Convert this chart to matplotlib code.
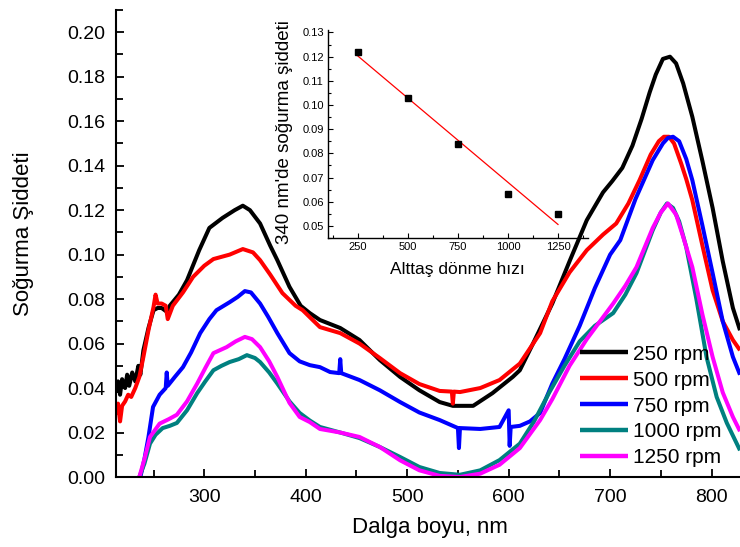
import numpy as np
import matplotlib
matplotlib.use("Agg")
import matplotlib.pyplot as plt
from matplotlib import font_manager
from matplotlib.ticker import MultipleLocator, FormatStrFormatter

# --- data ------------------------------------------------------------------
wl_250 = [213, 215, 217, 219, 222, 224, 226, 229, 232, 235, 237, 240, 245, 250, 254, 258, 264, 266,
          275, 283, 295, 305, 318, 330, 338, 345, 355, 365, 372, 384, 395, 404, 414, 434, 453, 473,
          493, 512, 532, 545, 565, 584, 604, 611, 624, 643, 660, 677, 693, 702, 712, 722, 731, 739,
          745, 752, 759, 765, 772, 781, 791, 801, 811, 821, 828]
abs_250 = [0.038, 0.043, 0.037, 0.044, 0.040, 0.046, 0.041, 0.047, 0.043, 0.050, 0.046, 0.057, 0.067,
           0.075, 0.076, 0.076, 0.074, 0.077, 0.082, 0.0885, 0.102, 0.112, 0.1165, 0.120, 0.122, 0.120,
           0.114, 0.104, 0.0975, 0.0855, 0.077, 0.0737, 0.0706, 0.067, 0.0616, 0.0526, 0.045, 0.039,
           0.0337, 0.032, 0.032, 0.0377, 0.045, 0.048, 0.060, 0.078, 0.097, 0.1155, 0.128, 0.133,
           0.139, 0.149, 0.161, 0.173, 0.181, 0.188, 0.189, 0.186, 0.177, 0.162, 0.142, 0.121, 0.097,
           0.076, 0.066]

wl_500 = [213, 215, 217, 219, 222, 225, 228, 232, 236, 240, 245, 250, 252, 254, 258, 262, 264, 269,
          279, 289, 300, 309, 325, 338, 348, 355, 365, 377, 390, 397, 414, 434, 453, 473, 493, 512,
          532, 544, 545, 546, 552, 572, 591, 611, 631, 643, 660, 677, 693, 706, 718, 729, 740, 748,
          753, 758, 763, 770, 775, 781, 791, 801, 811, 821, 828]
abs_500 = [0.028, 0.033, 0.025, 0.032, 0.034, 0.037, 0.036, 0.040, 0.045, 0.054, 0.066, 0.0765, 0.082,
           0.078, 0.078, 0.077, 0.071, 0.077, 0.083, 0.090, 0.095, 0.098, 0.100, 0.1025, 0.101, 0.0975,
           0.091, 0.0827, 0.077, 0.075, 0.0674, 0.0647, 0.060, 0.0535, 0.0467, 0.0418, 0.0387, 0.0384,
           0.033, 0.0384, 0.0382, 0.040, 0.0436, 0.051, 0.0647, 0.079, 0.092, 0.102, 0.109, 0.114,
           0.123, 0.1335, 0.145, 0.151, 0.153, 0.153, 0.150, 0.141, 0.134, 0.1245, 0.104, 0.084,
           0.070, 0.0616, 0.057]

wl_750 = [237, 241, 245, 249.5, 256, 262, 263, 264, 271, 279, 287, 296, 305, 312, 325, 333, 340, 346,
          355, 363, 372, 384, 394, 404, 414, 424, 433, 434, 435, 453, 473, 493, 512, 532, 550, 551,
          552, 572, 591, 600, 601, 602, 611, 621, 631, 643, 655, 670, 685, 700, 710, 725, 742, 752,
          757, 762, 768, 775, 781, 791, 801, 811, 821, 828]
abs_750 = [0.000, 0.008, 0.018, 0.0315, 0.037, 0.040, 0.047, 0.041, 0.045, 0.0494, 0.056, 0.0647, 0.071,
           0.075, 0.0786, 0.081, 0.0836, 0.083, 0.078, 0.072, 0.0647, 0.0557, 0.052, 0.0503, 0.0494,
           0.0472, 0.0467, 0.053, 0.0467, 0.0436, 0.039, 0.0337, 0.029, 0.0256, 0.022, 0.013, 0.022,
           0.0216, 0.0225, 0.030, 0.014, 0.0225, 0.023, 0.025, 0.0288, 0.042, 0.053, 0.068, 0.085,
           0.100, 0.1065, 0.125, 0.1425, 0.150, 0.1525, 0.153, 0.151, 0.143, 0.1335, 0.113, 0.0917,
           0.070, 0.054, 0.046]

wl_1000 = [236, 241, 246.5, 252, 259, 266, 273, 283, 293, 301, 309, 317, 325, 334, 342, 350, 355, 364,
           372, 384, 394, 404, 414, 434, 453, 473, 493, 512, 532, 552, 572, 591, 611, 625, 640, 655,
           670, 685, 703, 715, 726, 742, 750, 756, 762, 768, 775, 785, 795, 805, 815, 828]
abs_1000 = [0.000, 0.006, 0.015, 0.019, 0.022, 0.023, 0.0243, 0.030, 0.0377, 0.043, 0.048, 0.050,
            0.0517, 0.053, 0.0548, 0.0535, 0.0517, 0.047, 0.042, 0.034, 0.0288, 0.0254, 0.0225, 0.020,
            0.0175, 0.0135, 0.009, 0.0045, 0.0018, 0.001, 0.003, 0.0076, 0.015, 0.025, 0.038, 0.050,
            0.061, 0.068, 0.0737, 0.082, 0.0917, 0.111, 0.119, 0.123, 0.121, 0.115, 0.1034, 0.080,
            0.054, 0.036, 0.0243, 0.012]

wl_1250 = [236, 241, 246.5, 256, 265, 273, 283, 293, 301, 309, 322, 331, 340, 347, 355, 364, 372, 384,
           394, 404, 414, 434, 453, 473, 493, 512, 532, 552, 572, 591, 611, 631, 643, 660, 677, 690,
           703, 715, 726, 742, 750, 757, 765, 772, 781, 791, 801, 811, 821, 828]
abs_1250 = [0.000, 0.008, 0.018, 0.024, 0.026, 0.028, 0.034, 0.042, 0.049, 0.0557, 0.0584, 0.061,
            0.063, 0.062, 0.0584, 0.052, 0.045, 0.0333, 0.027, 0.0247, 0.0216, 0.020, 0.018, 0.0135,
            0.0075, 0.003, 0.0005, 0.000, 0.0015, 0.0055, 0.013, 0.0256, 0.035, 0.050, 0.062, 0.070,
            0.078, 0.086, 0.0944, 0.112, 0.119, 0.123, 0.118, 0.108, 0.0944, 0.073, 0.054, 0.038,
            0.027, 0.0206]

series_labels = ["250 rpm", "500 rpm", "750 rpm", "1000 rpm", "1250 rpm"]
series_colors = ["#000000", "#ff0000", "#0000ff", "#008080", "#ff00ff"]

# inset: absorbance at 340 nm vs spin speed
rpm = np.array([250, 500, 750, 1000, 1250])
abs_340 = np.array([0.122, 0.103, 0.084, 0.063, 0.055])

# --- fonts -------------------------------------------------------------------
names = {f.name for f in font_manager.fontManager.ttflist}
NARROW = "Liberation Sans Narrow" if "Liberation Sans Narrow" in names else "Liberation Sans"
plt.rcParams["font.family"] = ["Liberation Sans", "DejaVu Sans"]

fig = plt.figure(figsize=(7.4, 5.47), dpi=100)
ax = fig.add_axes([116 / 740, 70 / 547, 624 / 740, 467 / 547])

curves = [(wl_250, abs_250), (wl_500, abs_500), (wl_750, abs_750),
          (wl_1000, abs_1000), (wl_1250, abs_1250)]
for (x, y), lab, c in zip(curves, series_labels, series_colors):
    ax.plot(x, y, color=c, lw=2.9, label=lab, solid_joinstyle="round", solid_capstyle="butt")

ax.set_xlim(213, 828)
ax.set_ylim(0, 0.21)
ax.xaxis.set_major_locator(MultipleLocator(100))
ax.xaxis.set_minor_locator(MultipleLocator(50))
ax.yaxis.set_major_locator(MultipleLocator(0.02))
ax.yaxis.set_minor_locator(MultipleLocator(0.01))
ax.yaxis.set_major_formatter(FormatStrFormatter("%.2f"))
for s in ("top", "right"):
    ax.spines[s].set_visible(False)
for s in ("left", "bottom"):
    ax.spines[s].set_linewidth(1.5)
ax.tick_params(which="both", direction="in", width=1.3, labelsize=14)
ax.tick_params(axis="y", pad=7.5)
ax.tick_params(axis="x", pad=9)
ax.tick_params(which="major", length=6)
ax.tick_params(which="minor", length=5)
ax.set_xlabel("Dalga boyu, nm", fontsize=16)
ax.xaxis.set_label_coords(0.503, -0.086)
ax.set_ylabel("Soğurma Şiddeti", fontsize=16, family=[NARROW, "DejaVu Sans"])
ax.yaxis.set_label_coords(-0.132, 0.52)

leg = ax.legend(loc="center left", bbox_to_anchor=(580 / 740, 141 / 547),
                bbox_transform=fig.transFigure, frameon=False, fontsize=15,
                borderpad=0, borderaxespad=0, handlelength=2.3, handletextpad=0.25,
                labelspacing=0.33)
for h in leg.get_lines():
    h.set_linewidth(3.2)

# --- inset ---------------------------------------------------------------------
axi = fig.add_axes([328 / 740, 309 / 547, 260 / 740, 208 / 547])
axi.patch.set_alpha(0)
k, b0 = np.polyfit(rpm, abs_340, 1)
axi.plot(rpm, k * rpm + b0, color="#ff0000", lw=0.9)
axi.plot(rpm, abs_340, "s", color="black", ms=4.5)
axi.set_xlim(100, 1400)
axi.set_ylim(0.045, 0.131)
axi.set_xticks([250, 500, 750, 1000, 1250])
axi.xaxis.set_minor_locator(MultipleLocator(125))
axi.yaxis.set_major_locator(MultipleLocator(0.01))
axi.yaxis.set_minor_locator(MultipleLocator(0.005))
axi.yaxis.set_major_formatter(FormatStrFormatter("%.2f"))
for s in ("top", "right"):
    axi.spines[s].set_visible(False)
for s in ("left", "bottom"):
    axi.spines[s].set_linewidth(1.0)
axi.tick_params(which="both", direction="in", width=0.8, labelsize=8, pad=3)
axi.tick_params(which="major", length=3.5)
axi.tick_params(which="minor", length=2.5)
axi.set_xlabel("Alttaş dönme hızı", fontsize=12.5, family=[NARROW, "DejaVu Sans"])
axi.xaxis.set_label_coords(0.496, -0.115)
axi.set_ylabel("340 nm'de soğurma şiddeti", fontsize=13.5, family=[NARROW, "DejaVu Sans"])
axi.yaxis.set_label_coords(-0.135, 0.51)

fig.savefig("out.png", dpi=100)
